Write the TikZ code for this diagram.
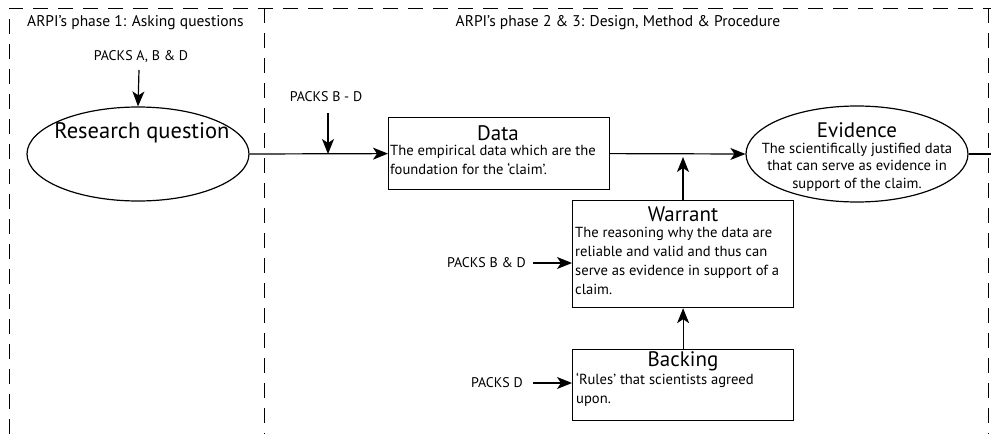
\documentclass[tikz,border=0pt]{standalone}
\usepackage{fontspec}
\setmainfont{PT Sans}
\usetikzlibrary{shapes.geometric,arrows.meta}
\begin{document}
\begin{tikzpicture}[x=1pt,y=-1pt,
  frame/.style={draw, line width=1pt, dash pattern=on 15pt off 10pt},
  box/.style={draw, line width=1.2pt, anchor=north west, inner sep=0pt},
  oval/.style={draw, ellipse, line width=1.2pt, inner sep=0pt},
  conn/.style={line width=1.2pt, -{Stealth[length=15pt,width=12pt,inset=4pt]}},
  plain/.style={line width=1.2pt},
  lbl/.style={font=\fontsize{14}{16}\selectfont, inner sep=0pt},
  hdr/.style={font=\fontsize{15.5}{17}\selectfont, inner sep=0pt},
  ttl/.style={font=\fontsize{21}{23}\selectfont, inner sep=0pt},
  big/.style={font=\fontsize{22.5}{25}\selectfont, inner sep=0pt},
  body/.style={font=\fontsize{14.6}{19}\selectfont, inner sep=0pt, align=left, anchor=north west},
  cbody/.style={font=\fontsize{14.6}{17.5}\selectfont, inner sep=0pt, align=center}
]
\useasboundingbox (0,0) rectangle (991,434);
% frame
\draw[frame] (9,434) -- (9,8) -- (991,8);
\draw[frame] (988,8) -- (988,434);
\draw[frame] (264,8) -- (264,434);
% titles
\node[hdr, anchor=west] (t1) at (27,23) {ARPI’s phase 1: Asking questions};
\node[hdr] (t2) at (618,23) {ARPI’s phase 2 \& 3: Design, Method \& Procedure};
% research question
\node[oval, minimum width=222pt, minimum height=94pt] (rq) at (138,154) {};
\node[big] (rqt) at (142,133) {Research question};
\node[lbl] (pa) at (141,57) {PACKS A, B \& D};
\draw[conn] (139,70) -- (rq.north);
% data
\node[box, minimum width=221pt, minimum height=72pt] (data) at (388,117) {};
\node[ttl] (datat) at (498,133) {Data};
\node[body] (datab) at (390,145) {The empirical data which are the\\foundation for the ‘claim’.};
\draw[conn] (rq.east) -- (data.west);
\node[lbl] (pbd) at (326,97) {PACKS B - D};
\coordinate (pbdend) at (328,154);
\draw[conn] (328,113) -- (pbdend);
% evidence
\node[oval, minimum width=222pt, minimum height=96pt] (evid) at (857,154) {};
\node[ttl] (evt) at (857,130) {Evidence};
\node[cbody] (evb) at (857,167) {The scientifically justified data\\that can serve as evidence in\\support of the claim.};
\draw[conn] (data.east) -- (evid.west);
\coordinate (rend) at (991,154);
\draw[plain] (evid.east) -- (rend);
% warrant
\node[box, minimum width=221pt, minimum height=107pt] (war) at (572,200) {};
\node[ttl] (wart) at (683,214) {Warrant};
\node[body] (warb) at (575,227) {The reasoning why the data are\\reliable and valid and thus can\\serve as evidence in support of a\\claim.};
\coordinate (wtip) at (683,157);
\draw[conn] (war.north -| wtip) -- (wtip);
\node[lbl, anchor=east] (pbd2) at (526,263) {PACKS B \& D};
\draw[conn] (533,263) -- (war.west |- pbd2);
% backing
\node[box, minimum width=221pt, minimum height=71pt] (back) at (572,349) {};
\node[ttl] (backt) at (683,361) {Backing};
\node[body] (backb) at (576,373) {‘Rules’ that scientists agreed\\upon.};
\draw[conn] (back.north) -- (war.south);
\node[lbl, anchor=east] (pd) at (523,383) {PACKS D};
\draw[conn] (533,383) -- (back.west |- pd);
\end{tikzpicture}
\end{document}
